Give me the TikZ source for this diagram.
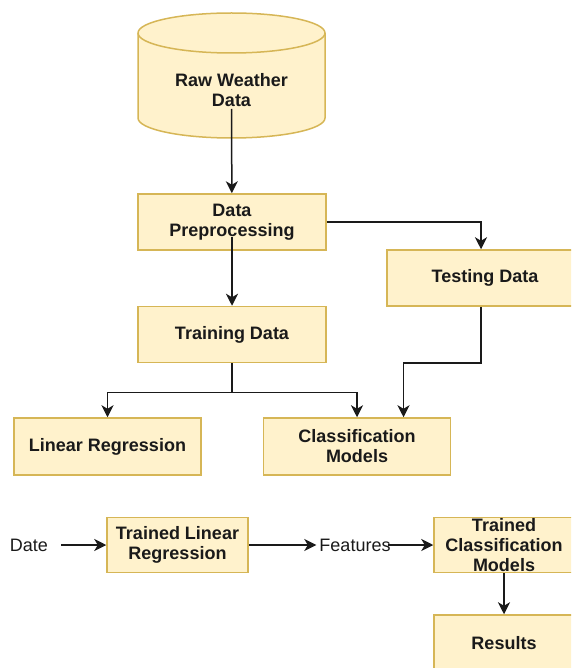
\documentclass[tikz,border=0pt]{standalone}
\usepackage{fontspec}
\setmainfont{Liberation Sans}
\usetikzlibrary{arrows.meta,positioning}
\definecolor{pale}{HTML}{FFF2CC}
\definecolor{gold}{HTML}{D6B656}
\definecolor{ink}{HTML}{1A1A1A}
\newcommand{\bigtxt}{\fontsize{18}{20}\selectfont}
\tikzset{
  box/.style={draw=gold,line width=1.5pt,fill=pale,align=center,inner sep=2pt,font=\bigtxt\bfseries,text=ink},
  lbl/.style={font=\bigtxt,text=ink,inner sep=3pt},
  ar/.style={-{Stealth[length=12pt,width=12pt,inset=3.5pt]},line width=1.5pt,draw=ink},
}

\begin{document}
\begin{tikzpicture}[x=1pt,y=-1pt]
\useasboundingbox (0,0) rectangle (571,668);
\clip (0,0) rectangle (571,668);
% database
\path[draw=gold,fill=pale,line width=1.5pt] (138,33) -- (138,118)
  arc[start angle=180,end angle=0,x radius=93.5,y radius=20] -- (325,33)
  arc[start angle=0,end angle=-180,x radius=93.5,y radius=20] -- cycle;
\draw[gold,line width=1.5pt] (325,33) arc[start angle=0,end angle=180,x radius=93.5,y radius=20];
\node[lbl,font=\bigtxt\bfseries,align=center] (raw) at (231.5,90) {Raw Weather\\Data};
\coordinate (rawout) at (231.5,109);
% training branch
\node[box,minimum width=188pt,minimum height=56pt] (dp) at (232,222) {Data\\Preprocessing};
\node[box,minimum width=188pt,minimum height=56pt] (test) at (481,278) {\hspace*{8pt}Testing Data};
\node[box,minimum width=188pt,minimum height=56pt,below=55pt of dp] (train) {Training Data};
\node[box,minimum width=187pt,minimum height=57pt] (lr) at (107.5,446.5) {Linear Regression};
\node[box,minimum width=187pt,minimum height=57pt,right=61pt of lr] (cm) {Classification\\Models};
\coordinate (dpout) at (232,237);
% prediction chain
\node[lbl] (date) at (29,545) {Date};
\node[box,minimum width=141pt,minimum height=55pt] (tlr) at (177.5,545) {Trained Linear\\Regression};
\node[lbl] (feat) at (355,545) {Features};
\node[box,minimum width=140pt,minimum height=55pt,inner ysep=0pt] (tcm) at (504,545) {Trained\\Classification\\Models};
\node[box,minimum width=140pt,minimum height=56pt,below=41pt of tcm] (res) {Results};
\draw[ar] (rawout) -- (dp);
\draw[ar] (dp.east) -| (test.north);
\draw[ar] (dpout) -- (train);
\draw[ar] (train.south) -- ++(0,29) -| (lr.north);
\draw[ar] (train.south) -- ++(0,29) -| (cm.north);
\draw[ar] (test.south) -- ++(0,56) -| ([xshift=46.5pt]cm.north);
\draw[ar] ([xshift=10pt]date.east) -- (tlr);
\draw[ar] (tlr) -- (feat);
\draw[ar] ([xshift=-6pt]feat.east) -- (tcm);
\draw[ar] (tcm) -- (res);
\end{tikzpicture}
\end{document}
